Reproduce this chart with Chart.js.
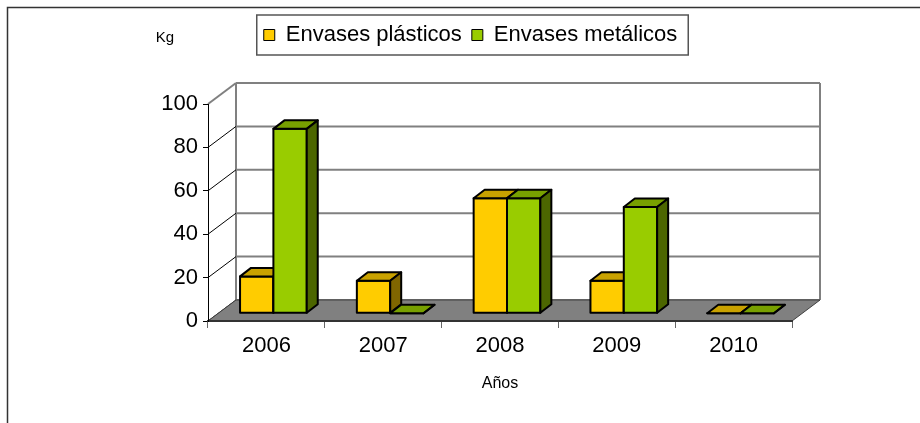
<!DOCTYPE html>
<html>
<head>
<meta charset="utf-8">
<script src="https://cdn.jsdelivr.net/npm/chart.js@4.4.1/dist/chart.umd.min.js"></script>
<style>
html, body { margin: 0; padding: 0; background: #fff; }
</style>
</head>
<body>
<canvas id="chart" width="920" height="423"></canvas>
<script>
var years = ['2006', '2007', '2008', '2009', '2010'];
var plasticos = [17, 15, 53, 15, 0];
var metalicos = [85, 0, 53, 49, 0];
var yTicks = [0, 20, 40, 60, 80, 100];

var FONT = "'Liberation Sans', Arial, sans-serif";

// depth of the floor / walls and of the boxes
var WALL_DX = 28, WALL_DY = -21;
var BAR_OX = 7, BAR_OY = -7.7, BAR_DX = 11, BAR_DY = -8.5;

var faces = [
    { front: '#FFCC00', top: '#C9A200', side: '#806600' },
    { front: '#99CC00', top: '#78A000', side: '#4C6600' }
];

function poly(ctx, pts, fill) {
    ctx.beginPath();
    ctx.moveTo(pts[0][0], pts[0][1]);
    for (var i = 1; i < pts.length; i++) ctx.lineTo(pts[i][0], pts[i][1]);
    ctx.closePath();
    ctx.fillStyle = fill;
    ctx.fill();
    ctx.stroke();
}

var box3d = {
    id: 'box3d',
    beforeInit: function (chart) {
        // extra room under the legend
        var fit = chart.legend.fit;
        chart.legend.fit = function () {
            fit.call(this);
            this.height += 48;
        };
    },
    beforeDraw: function (chart) {
        var ctx = chart.ctx, a = chart.chartArea, ys = chart.scales.y;
        ctx.save();
        ctx.fillStyle = '#fff';
        ctx.fillRect(0, 0, chart.width, chart.height);

        // outer frame
        ctx.strokeStyle = '#333';
        ctx.lineWidth = 1.5;
        ctx.beginPath();
        ctx.moveTo(7.5, chart.height);
        ctx.lineTo(7.5, 7.5);
        ctx.lineTo(chart.width, 7.5);
        ctx.stroke();

        // back wall gridlines
        var top = ys.getPixelForValue(100) + WALL_DY;
        var bot = ys.getPixelForValue(0) + WALL_DY;
        ctx.strokeStyle = '#808080';
        ctx.lineWidth = 2;
        yTicks.forEach(function (v) {
            var py = ys.getPixelForValue(v) + WALL_DY;
            ctx.beginPath();
            ctx.moveTo(a.left + WALL_DX, py);
            ctx.lineTo(a.right + WALL_DX, py);
            ctx.stroke();
        });
        ctx.beginPath();
        ctx.moveTo(a.left + WALL_DX, bot);
        ctx.lineTo(a.left + WALL_DX, top);
        ctx.moveTo(a.right + WALL_DX, bot);
        ctx.lineTo(a.right + WALL_DX, top);
        ctx.stroke();

        // side wall diagonals
        yTicks.forEach(function (v) {
            var py = ys.getPixelForValue(v);
            ctx.beginPath();
            ctx.moveTo(a.left, py);
            ctx.lineTo(a.left + WALL_DX, py + WALL_DY);
            if (v === 100) { ctx.strokeStyle = '#808080'; ctx.lineWidth = 2; }
            else { ctx.strokeStyle = '#000'; ctx.lineWidth = 1; }
            ctx.stroke();
        });

        // floor
        var fy = ys.getPixelForValue(0);
        ctx.strokeStyle = '#404040';
        ctx.lineWidth = 1;
        poly(ctx, [[a.left, fy], [a.left + WALL_DX, fy + WALL_DY],
            [a.right + WALL_DX, fy + WALL_DY], [a.right, fy]], '#808080');
        ctx.restore();
    },
    beforeDatasetsDraw: function (chart) {
        var ctx = chart.ctx;
        ctx.save();
        ctx.strokeStyle = '#000';
        ctx.lineWidth = 2;
        ctx.lineJoin = 'round';
        chart.data.datasets.forEach(function (ds, i) {
            var meta = chart.getDatasetMeta(i);
            meta.data.forEach(function (bar) {
                var p = bar.getProps(['x', 'y', 'base', 'width'], true);
                var l = p.x - p.width / 2 + BAR_OX, r = p.x + p.width / 2 + BAR_OX;
                var t = p.y + BAR_OY, b = p.base + BAR_OY;
                poly(ctx, [[l, t], [r, t], [r, b], [l, b]], faces[i].front);
                poly(ctx, [[l, t], [l + BAR_DX, t + BAR_DY], [r + BAR_DX, t + BAR_DY], [r, t]], faces[i].top);
                poly(ctx, [[r, t], [r + BAR_DX, t + BAR_DY], [r + BAR_DX, b + BAR_DY], [r, b]], faces[i].side);
            });
        });
        ctx.restore();
        return false;
    },
    afterDraw: function (chart) {
        var ctx = chart.ctx;
        var hb = chart.legend.legendHitBoxes;
        var last = hb[hb.length - 1];
        ctx.save();
        ctx.strokeStyle = '#555';
        ctx.lineWidth = 1.5;
        var x0 = hb[0].left - 7, x1 = last.left + last.width + 11;
        var y0 = hb[0].top - 9, y1 = hb[0].top + hb[0].height + 9;
        ctx.strokeRect(x0, y0, x1 - x0, y1 - y0);

        ctx.fillStyle = '#000';
        ctx.font = '15px ' + FONT;
        ctx.textAlign = 'center';
        ctx.textBaseline = 'middle';
        ctx.fillText('Kg', 165, 38);
        ctx.restore();
    }
};

var ctx = document.getElementById('chart').getContext('2d');

var chart = new Chart(ctx, {
    type: 'bar',
    data: {
        labels: years,
        datasets: [{
            label: 'Envases plásticos',
            data: plasticos,
            backgroundColor: faces[0].front,
            borderColor: '#000',
            borderWidth: 1
        }, {
            label: 'Envases metálicos',
            data: metalicos,
            backgroundColor: faces[1].front,
            borderColor: '#000',
            borderWidth: 1
        }]
    },
    options: {
        responsive: false,
        animation: false,
        devicePixelRatio: 1,
        categoryPercentage: 0.571,
        barPercentage: 1.0,
        layout: { padding: { top: 14, left: 149, right: 128, bottom: 30 } },
        plugins: {
            tooltip: { enabled: false },
            legend: {
                position: 'top',
                labels: {
                    boxWidth: 11,
                    boxHeight: 11,
                    padding: 10,
                    color: '#000',
                    font: { family: FONT, size: 22 }
                }
            }
        },
        scales: {
            x: {
                afterFit: function (s) { s.height = 72; },
                grid: { display: true, drawOnChartArea: false, tickLength: 7, color: '#666', offset: true },
                border: { display: true, color: '#333', width: 2 },
                ticks: { color: '#000', padding: 5, font: { family: FONT, size: 22 } },
                title: { display: true, text: 'Años', color: '#000', padding: 0, font: { family: FONT, size: 16 } }
            },
            y: {
                min: 0,
                max: 100,
                afterFit: function (s) { s.width = 59; },
                afterBuildTicks: function (s) { s.ticks = yTicks.map(function (v) { return { value: v }; }); },
                grid: { display: true, drawOnChartArea: false, tickLength: 5, color: '#000' },
                border: { display: true, color: '#000', width: 1 },
                ticks: { color: '#000', padding: 5, font: { family: FONT, size: 22 } }
            }
        }
    },
    plugins: [box3d]
});
</script>
</body>
</html>
